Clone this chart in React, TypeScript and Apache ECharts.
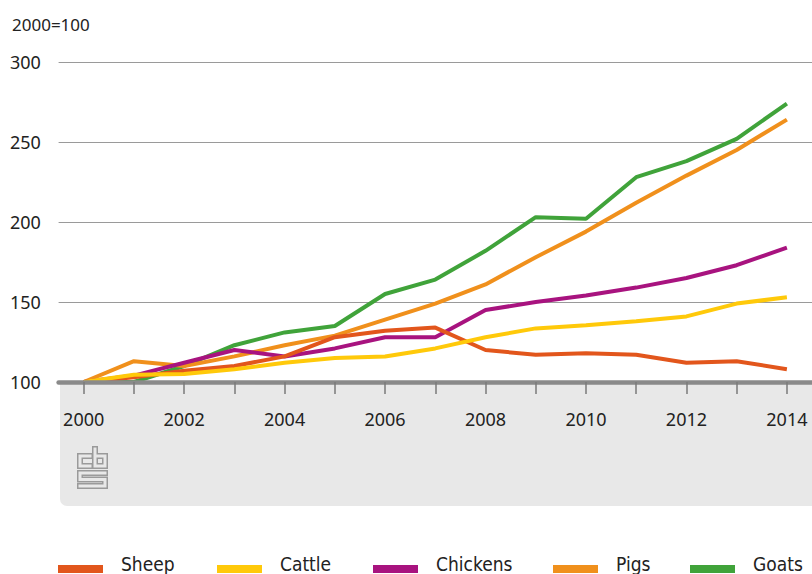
import React, { useEffect, useRef } from "react";
import * as echarts from "echarts";

const years = ["2000","2001","2002","2003","2004","2005","2006","2007","2008","2009","2010","2011","2012","2013","2014"];
const sheep = [100, 103, 107, 110, 116, 128, 132, 134, 120, 117, 118, 117, 112, 113, 108];
const cattle = [100, 104.5, 105, 108, 112, 115, 116, 121, 128, 133.5, 135.5, 138, 141, 149, 153];
const chickens = [100, 104, 112, 120, 116, 121, 128, 128, 145, 150, 154, 159, 165, 173, 184];
const pigs = [100, 113, 110, 116, 123, 129, 139, 149, 161, 178, 194, 212, 229, 245, 264];
const goats = [100, 100, 110, 123, 131, 135, 155, 164, 182, 203, 202, 228, 238, 252, 274];

const seriesNames = ["Sheep", "Cattle", "Chickens", "Pigs", "Goats"];
const seriesColors = ["#e2561c", "#ffc90a", "#a8137f", "#f0901c", "#40a33a"];
const seriesData = [sheep, cattle, chickens, pigs, goats];
const drawOrder = [4, 3, 2, 0, 1];
const legendLeft = [58, 217, 373, 553, 690];

const yTicks = { min: 100, max: 300, interval: 50 };
const unitLabel = "2000=100";

const AXIS_FONT = "'Noto Sans', 'DejaVu Sans', sans-serif";
const LEGEND_FONT = "'DejaVu Sans Condensed', 'Liberation Sans Narrow', 'Noto Sans', sans-serif";
const LEGEND_ICON = "path://M0,0L45,0L45,0Z M0,10H45V18H0Z";

export default function App() {
  const ref = useRef<HTMLDivElement>(null);
  useEffect(() => {
    if (!ref.current) return;
    const chart = echarts.init(ref.current, undefined, { renderer: "svg" });
    const outer = { stroke: "#9a9a9a", lineWidth: 6, lineCap: "square", lineJoin: "miter", fill: null };
    const inner = { stroke: "#e8e8e8", lineWidth: 3, lineCap: "square", lineJoin: "miter", fill: null };
    const logoPaths = [
      [[13, 10], [3, 10], [3, 20], [13, 20]],
      [[18, 3], [18, 20], [28, 20], [28, 10], [18, 10]],
      [[28, 27], [3, 27], [3, 33.5], [28, 33.5], [28, 40], [3, 40]],
    ];
    const logoChildren: any[] = [];
    logoPaths.forEach((p) => logoChildren.push({ type: "polyline", shape: { points: p }, style: outer }));
    logoPaths.forEach((p) => logoChildren.push({ type: "polyline", shape: { points: p }, style: inner }));

    chart.setOption({
      animation: false,
      backgroundColor: "#ffffff",
      grid: { left: 58.6, width: 763, top: 62, height: 320, containLabel: false },
      xAxis: {
        type: "category",
        data: years,
        boundaryGap: true,
        z: 10,
        axisLine: { show: true, lineStyle: { color: "#8a8a8a", width: 4.5 } },
        axisTick: { show: true, alignWithLabel: true, interval: 0, length: 12, lineStyle: { color: "#7a7a7a", width: 1.5 } },
        axisLabel: { interval: 1, margin: 28, fontSize: 18, color: "#222", fontFamily: AXIS_FONT },
        splitLine: { show: false },
      },
      yAxis: {
        type: "value",
        min: yTicks.min,
        max: yTicks.max,
        interval: yTicks.interval,
        axisLine: { show: false },
        axisTick: { show: false },
        axisLabel: { align: "left", margin: 48.6, fontSize: 18, color: "#222", fontFamily: AXIS_FONT },
        splitLine: { show: true, lineStyle: { color: "#9a9a9a", width: 1.2 } },
      },
      legend: seriesNames.map((name, i) => ({
        data: [name],
        left: legendLeft[i],
        top: 554,
        padding: 0,
        icon: LEGEND_ICON,
        itemWidth: 45,
        itemHeight: 18,
        textStyle: { fontSize: 19, lineHeight: 20, color: "#222", fontFamily: LEGEND_FONT, padding: [0, 0, 0, 13] },
      })),
      graphic: [
        { type: "rect", z: -10, shape: { x: 60, y: 382, width: 770, height: 124, r: [0, 0, 0, 7] }, style: { fill: "#e8e8e8" } },
        { type: "text", x: 12, y: 24, style: { text: unitLabel, fontSize: 17, fill: "#222", fontFamily: AXIS_FONT, verticalAlign: "middle" } },
        { type: "group", x: 77, y: 446, children: logoChildren },
      ],
      series: drawOrder.map((i) => ({
        name: seriesNames[i],
        type: "line",
        data: seriesData[i],
        symbol: "none",
        color: seriesColors[i],
        lineStyle: { color: seriesColors[i], width: 4 },
      })),
    });
    return () => chart.dispose();
  }, []);
  return <div ref={ref} style={{ width: 812, height: 574, position: "absolute", left: 0, top: 0 }} />;
}
